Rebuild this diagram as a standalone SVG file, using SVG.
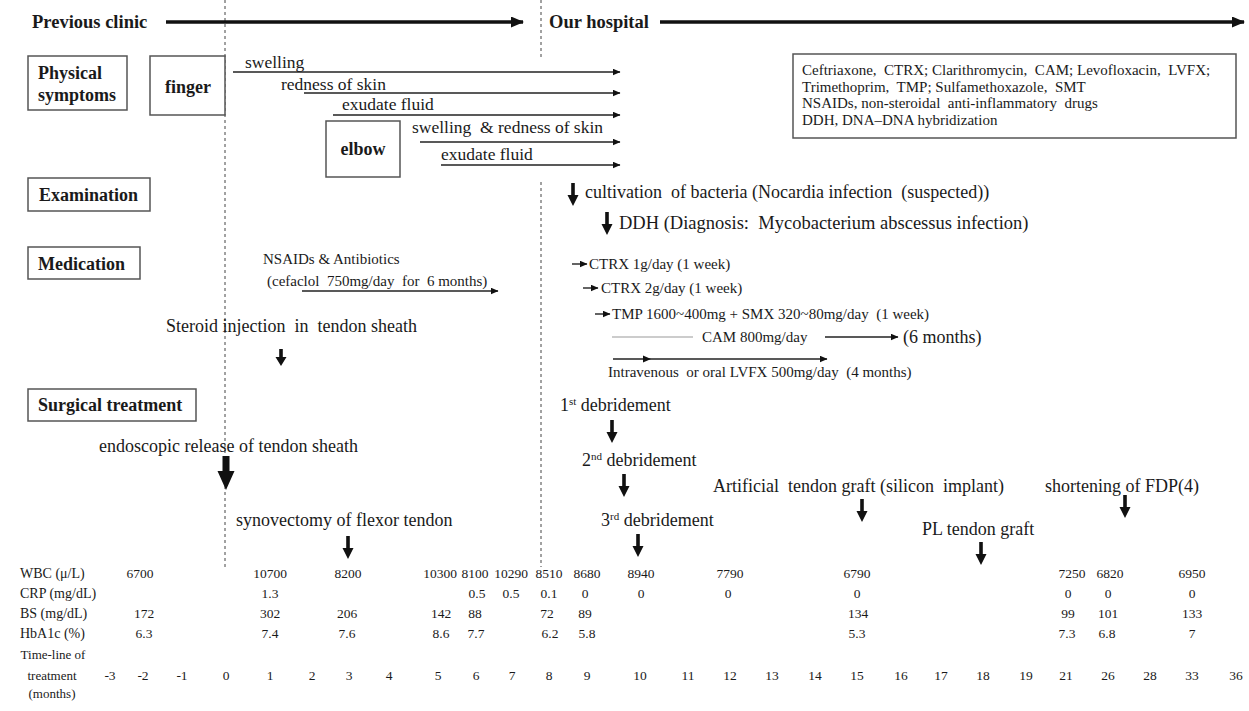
<svg xmlns="http://www.w3.org/2000/svg" width="1249" height="711" viewBox="0 0 1249 711">
<defs>
<style>
text{font-family:"Liberation Serif","Times New Roman",serif;fill:#1a1a1a}
.b{font-weight:bold;font-size:18px}
.l{font-size:18px}
.s{font-size:17.5px}
.m{font-size:15px}
.t{font-size:13.5px;text-anchor:middle}
.tl{font-size:14px}
.tc{font-size:13px;text-anchor:middle}
.sup{font-size:11px}
.box{fill:#fff;stroke:#555;stroke-width:1.5}
.dash{stroke:#444;stroke-width:1;stroke-dasharray:3 3;fill:none}
.thin{stroke:#222;stroke-width:1.4;fill:none;marker-end:url(#ah)}
.thick{stroke:#111;stroke-width:3.5;fill:none;marker-end:url(#ahT)}
.gray{stroke:#999;stroke-width:1.2;fill:none}
.da{fill:#111}
</style>
<marker id="ah" markerUnits="userSpaceOnUse" markerWidth="8" markerHeight="7" refX="7.5" refY="3.5" orient="auto"><path d="M0,0 L8,3.5 L0,7 z" fill="#111"/></marker>
<marker id="ahT" markerUnits="userSpaceOnUse" markerWidth="13" markerHeight="11" refX="12" refY="5.5" orient="auto"><path d="M0,0 L13,5.5 L0,11 z" fill="#111"/></marker>
<path id="dn" d="M-1.8,0 H1.8 V12 H5.5 L0,23 L-5.5,12 H-1.8 Z"/>
<path id="dnS" d="M-1.8,0 H1.8 V8 H5.5 L0,17 L-5.5,8 H-1.8 Z"/>
<path id="dnB" d="M-3.5,0 H3.5 V15 H8.5 L0,34 L-8.5,15 H-3.5 Z"/>
</defs>
<rect width="1249" height="711" fill="#fff"/>

<g id="dividers">
<line class="dash" x1="225" y1="0" x2="225" y2="567"/>
<line class="dash" x1="541" y1="0" x2="541" y2="57"/>
<line class="dash" x1="541" y1="182" x2="541" y2="567"/>
</g>

<g id="connectors">
<line class="thick" x1="166" y1="22" x2="523" y2="22"/>
<line class="thick" x1="660" y1="22" x2="1244" y2="22"/>
<line class="thin" x1="233" y1="72" x2="620" y2="72"/>
<line class="thin" x1="304" y1="93" x2="620" y2="93"/>
<line class="thin" x1="333" y1="115" x2="620" y2="115"/>
<line class="thin" x1="420" y1="142" x2="620" y2="142"/>
<line class="thin" x1="441" y1="165" x2="620" y2="165"/>
<line class="thin" x1="302" y1="291" x2="498" y2="291"/>
<line class="thin" x1="572" y1="264" x2="587" y2="264"/>
<line class="thin" x1="583" y1="288" x2="598" y2="288"/>
<line class="thin" x1="595" y1="314" x2="610" y2="314"/>
<line class="gray" x1="612" y1="337" x2="693" y2="337"/>
<line class="thin" x1="825" y1="337" x2="898" y2="337"/>
<line class="thin" x1="613" y1="359" x2="827" y2="359"/>
<path class="da" d="M643,355.5 L651,359 L643,362.5 z"/>
<use href="#dn" class="da" x="573" y="183"/>
<use href="#dn" class="da" x="607" y="212"/>
<use href="#dnS" class="da" x="281" y="349"/>
<use href="#dnB" class="da" x="226" y="456"/>
<use href="#dn" class="da" x="348" y="536"/>
<use href="#dn" class="da" x="612" y="420"/>
<use href="#dn" class="da" x="624" y="474"/>
<use href="#dn" class="da" x="638" y="534"/>
<use href="#dn" class="da" x="862" y="499"/>
<use href="#dn" class="da" x="1125" y="495"/>
<use href="#dn" class="da" x="981" y="542"/>
</g>

<g id="hdr-prev"><text class="b" x="32" y="28" style="font-size:18.5px">Previous clinic</text></g>
<g id="hdr-our"><text class="b" x="549" y="28" style="font-size:18.5px">Our hospital</text></g>

<g id="physical-symptoms"><rect class="box" x="28" y="56" width="99" height="54"/><text class="b" x="38" y="79">Physical</text><text class="b" x="38" y="101">symptoms</text></g>
<g id="finger"><rect class="box" x="150" y="56" width="75" height="59"/><text class="b" x="188" y="93" text-anchor="middle">finger</text></g>
<g id="elbow"><rect class="box" x="326" y="121" width="74" height="56"/><text class="b" x="363" y="155" text-anchor="middle">elbow</text></g>

<g id="sym-swelling"><text class="s" x="245" y="68">swelling</text></g>
<g id="sym-redness"><text class="s" x="281" y="90">redness of skin</text></g>
<g id="sym-exudate"><text class="s" x="342" y="110">exudate fluid</text></g>
<g id="sym-elbow-swelling"><text class="s" x="412" y="133" xml:space="preserve">swelling  &amp; redness of skin</text></g>
<g id="sym-elbow-exudate"><text class="s" x="441" y="160">exudate fluid</text></g>

<g id="legend"><rect class="box" x="793" y="54" width="443" height="84"/>
<text class="m" x="802" y="75" xml:space="preserve">Ceftriaxone,  CTRX; Clarithromycin,  CAM; Levofloxacin,  LVFX;</text>
<text class="m" x="802" y="92" xml:space="preserve">Trimethoprim,  TMP; Sulfamethoxazole,  SMT</text>
<text class="m" x="802" y="108" xml:space="preserve">NSAIDs, non-steroidal  anti-inflammatory  drugs</text>
<text class="m" x="802" y="125">DDH, DNA–DNA hybridization</text></g>

<g id="examination"><rect class="box" x="28" y="178" width="122" height="33"/><text class="b" x="39" y="201">Examination</text></g>
<g id="exam-cultivation"><text class="l" x="585" y="198" xml:space="preserve">cultivation  of bacteria (Nocardia infection  (suspected))</text></g>
<g id="exam-ddh"><text class="l" x="619" y="229" style="font-size:18.5px" xml:space="preserve">DDH (Diagnosis:  Mycobacterium abscessus infection)</text></g>

<g id="medication"><rect class="box" x="28" y="247" width="112" height="32"/><text class="b" x="38" y="270">Medication</text></g>
<g id="med-nsaids"><text class="m" x="263" y="264">NSAIDs &amp; Antibiotics</text><text class="m" x="267" y="286" xml:space="preserve">(cefaclol  750mg/day  for  6 months)</text></g>
<g id="med-ctrx1"><text class="m" x="589" y="269">CTRX 1g/day (1 week)</text></g>
<g id="med-ctrx2"><text class="m" x="601" y="293">CTRX 2g/day (1 week)</text></g>
<g id="med-tmp"><text class="m" x="612" y="319" xml:space="preserve">TMP 1600~400mg + SMX 320~80mg/day  (1 week)</text></g>
<g id="med-cam"><text class="m" x="702" y="342">CAM 800mg/day</text><text class="l" x="903" y="343">(6 months)</text></g>
<g id="med-lvfx"><text class="m" x="608" y="377" xml:space="preserve">Intravenous  or oral LVFX 500mg/day  (4 months)</text></g>
<g id="steroid"><text class="l" x="166" y="332" xml:space="preserve">Steroid injection  in  tendon sheath</text></g>

<g id="surgical-treatment"><rect class="box" x="28" y="389" width="168" height="32"/><text class="b" x="38" y="411">Surgical treatment</text></g>
<g id="endoscopic"><text class="l" x="99" y="452">endoscopic release of tendon sheath</text></g>
<g id="synovectomy"><text class="l" x="236" y="526">synovectomy of flexor tendon</text></g>
<g id="debridement1"><text class="l" x="560" y="411">1<tspan class="sup" dy="-6">st</tspan><tspan dy="6"> debridement</tspan></text></g>
<g id="debridement2"><text class="l" x="582" y="466">2<tspan class="sup" dy="-6">nd</tspan><tspan dy="6"> debridement</tspan></text></g>
<g id="debridement3"><text class="l" x="601" y="526">3<tspan class="sup" dy="-6">rd</tspan><tspan dy="6"> debridement</tspan></text></g>
<g id="artificial-graft"><text class="l" x="713" y="492" xml:space="preserve">Artificial  tendon graft (silicon  implant)</text></g>
<g id="shortening"><text class="l" x="1045" y="492">shortening of FDP(4)</text></g>
<g id="pl-graft"><text class="l" x="922" y="535">PL tendon graft</text></g>

<g id="row-wbc"><text class="tl" x="20" y="578">WBC (μ/L)</text>
<text class="t" x="140" y="578">6700</text><text class="t" x="270" y="578">10700</text><text class="t" x="348" y="578">8200</text><text class="t" x="440" y="578">10300</text><text class="t" x="475" y="578">8100</text><text class="t" x="511" y="578">10290</text><text class="t" x="549" y="578">8510</text><text class="t" x="587" y="578">8680</text><text class="t" x="641" y="578">8940</text><text class="t" x="730" y="578">7790</text><text class="t" x="857" y="578">6790</text><text class="t" x="1072" y="578">7250</text><text class="t" x="1110" y="578">6820</text><text class="t" x="1192" y="578">6950</text></g>
<g id="row-crp"><text class="tl" x="20" y="598">CRP (mg/dL)</text>
<text class="t" x="270" y="598">1.3</text><text class="t" x="477" y="598">0.5</text><text class="t" x="511" y="598">0.5</text><text class="t" x="549" y="598">0.1</text><text class="t" x="585" y="598">0</text><text class="t" x="641" y="598">0</text><text class="t" x="728" y="598">0</text><text class="t" x="857" y="598">0</text><text class="t" x="1068" y="598">0</text><text class="t" x="1108" y="598">0</text><text class="t" x="1192" y="598">0</text></g>
<g id="row-bs"><text class="tl" x="20" y="618">BS (mg/dL)</text>
<text class="t" x="144" y="618">172</text><text class="t" x="270" y="618">302</text><text class="t" x="347" y="618">206</text><text class="t" x="441" y="618">142</text><text class="t" x="475" y="618">88</text><text class="t" x="547" y="618">72</text><text class="t" x="585" y="618">89</text><text class="t" x="858" y="618">134</text><text class="t" x="1068" y="618">99</text><text class="t" x="1108" y="618">101</text><text class="t" x="1192" y="618">133</text></g>
<g id="row-hba1c"><text class="tl" x="20" y="638">HbA1c (%)</text>
<text class="t" x="144" y="638">6.3</text><text class="t" x="270" y="638">7.4</text><text class="t" x="347" y="638">7.6</text><text class="t" x="441" y="638">8.6</text><text class="t" x="476" y="638">7.7</text><text class="t" x="550" y="638">6.2</text><text class="t" x="587" y="638">5.8</text><text class="t" x="857" y="638">5.3</text><text class="t" x="1067" y="638">7.3</text><text class="t" x="1107" y="638">6.8</text><text class="t" x="1192" y="638">7</text></g>
<g id="row-timeline"><text class="tc" x="53" y="659">Time-line of</text><text class="tc" x="52" y="680">treatment</text><text class="tc" x="52" y="698">(months)</text>
<text class="t" x="110" y="680">-3</text><text class="t" x="143" y="680">-2</text><text class="t" x="182" y="680">-1</text><text class="t" x="226" y="680">0</text><text class="t" x="270" y="680">1</text><text class="t" x="312" y="680">2</text><text class="t" x="349" y="680">3</text><text class="t" x="389" y="680">4</text><text class="t" x="438" y="680">5</text><text class="t" x="476" y="680">6</text><text class="t" x="512" y="680">7</text><text class="t" x="549" y="680">8</text><text class="t" x="587" y="680">9</text><text class="t" x="640" y="680">10</text><text class="t" x="688" y="680">11</text><text class="t" x="730" y="680">12</text><text class="t" x="772" y="680">13</text><text class="t" x="815" y="680">14</text><text class="t" x="857" y="680">15</text><text class="t" x="901" y="680">16</text><text class="t" x="941" y="680">17</text><text class="t" x="983" y="680">18</text><text class="t" x="1026" y="680">19</text><text class="t" x="1066" y="680">21</text><text class="t" x="1108" y="680">26</text><text class="t" x="1150" y="680">28</text><text class="t" x="1192" y="680">33</text><text class="t" x="1236" y="680">36</text></g>
</svg>
